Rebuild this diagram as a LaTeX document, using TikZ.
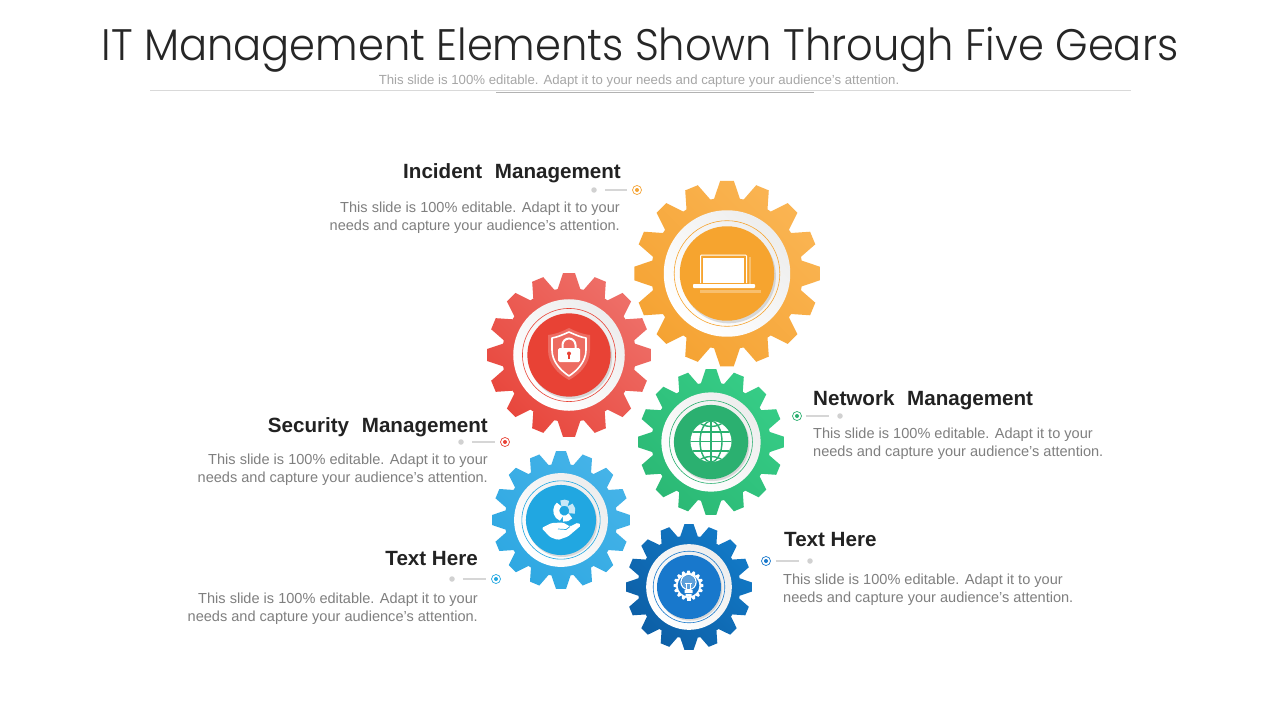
\documentclass[tikz,border=0pt]{standalone}
\usepackage{fontspec}
\setmainfont{Liberation Sans}
\newfontfamily\titlefont{Poppins Light}
\usetikzlibrary{calc}
\definecolor{ttl}{HTML}{262626}
\definecolor{bodyc}{HTML}{7F7F7F}
\definecolor{subc}{HTML}{A6A6A6}
\definecolor{headc}{HTML}{222222}
\definecolor{oA}{HTML}{FAB452}\definecolor{oB}{HTML}{F5A333}\definecolor{oD}{HTML}{F6A42F}
\definecolor{rA}{HTML}{EE6F68}\definecolor{rB}{HTML}{E8473D}\definecolor{rD}{HTML}{E84235}
\definecolor{gA}{HTML}{36CC86}\definecolor{gB}{HTML}{2BB975}\definecolor{gD}{HTML}{2BB070}
\definecolor{bA}{HTML}{45B3E8}\definecolor{bB}{HTML}{2FA8E2}\definecolor{bD}{HTML}{21A7E1}
\definecolor{dA}{HTML}{1279C6}\definecolor{dB}{HTML}{0D5FA6}\definecolor{dD}{HTML}{1878CC}
\tikzset{
  x=1pt,y=-1pt,
  headtxt/.style={inner sep=0pt,font=\fontsize{20.6}{24}\selectfont\bfseries,text=headc},
  bodyleft/.style={inner sep=0pt,align=left,font=\fontsize{14.55}{18}\selectfont,text=bodyc},
  bodyright/.style={inner sep=0pt,align=right,font=\fontsize{14.55}{18}\selectfont,text=bodyc},
  ringdot/.style={circle,inner sep=0pt,minimum size=9pt,draw=#1,line width=.7pt,fill=white},
  enddot/.style={circle,inner sep=0pt,minimum size=5.5pt,fill=black!18},
  leader/.style={draw=black!16,line width=1.2pt},
}
% gear outline with 16 teeth: cx cy R light dark
\newcommand{\gearshape}[5]{%
  \def\cx{#1}\def\cy{#2}%
  \pgfmathsetmacro{\Rout}{#3}\pgfmathsetmacro{\Rin}{#3*.815}%
  \shade[top color=#4,bottom color=#5,shading angle=-45]
    ({\cx+\Rin*cos(-11.25)},{\cy+\Rin*sin(-11.25)})
    \foreach \a in {0,22.5,...,337.5}{
      -- ({\cx+\Rin*cos(\a-9.8)},{\cy+\Rin*sin(\a-9.8)})
      -- ({\cx+\Rout*cos(\a-4.2)},{\cy+\Rout*sin(\a-4.2)})
      -- ({\cx+\Rout*cos(\a+4.2)},{\cy+\Rout*sin(\a+4.2)})
      -- ({\cx+\Rin*cos(\a+9.8)},{\cy+\Rin*sin(\a+9.8)})
      -- ({\cx+\Rin*cos(\a+11.25)},{\cy+\Rin*sin(\a+11.25)})
    } -- cycle;
}
\newcommand{\gearcore}[4]{% cx cy R disk
  \shade[top color=black!7,bottom color=white,shading angle=-45] (#1,#2) circle ({#3*.68});
  \draw[#4,line width=.6pt] (#1,#2) circle ({#3*.568});
  \fill[black!28,opacity=.5] ({#1+#3*.018},{#2+#3*.028}) circle ({#3*.508});
  \fill[#4] (#1,#2) circle ({#3*.508});
}
\begin{document}
\begin{tikzpicture}
\useasboundingbox (0,0) rectangle (1280,720);
\fill[white] (0,0) rectangle (1280,720);
% title
\node[inner sep=0pt,text=ttl,anchor=base] (title) at (640,60.5) {\scalebox{1}[1.06]{\titlefont\fontsize{41.6}{50}\selectfont IT Management Elements Shown Through Five Gears}};
\node[inner sep=0pt,text=subc,font=\fontsize{13.2}{15}\selectfont] (subtitle) at (639,81.5) {This slide is 100\% editable. Adapt it to your needs and capture your audience's attention.};
\draw[black!15,line width=.7pt] (150,90.5) -- (1131,90.5);
\draw[black!30,line width=.7pt] (496,92.5) -- (814,92.5);

% gears
\gearshape{727}{273.5}{93}{oA}{oB}\gearcore{727}{273.5}{93}{oD}
\gearshape{569}{355}{82}{rA}{rB}\gearcore{569}{355}{82}{rD}
\gearshape{711}{442}{73}{gA}{gB}\gearcore{711}{442}{73}{gD}
\gearshape{561}{520}{69}{bA}{bB}\gearcore{561}{520}{69}{bD}
\gearshape{689}{587}{63}{dA}{dB}\gearcore{689}{587}{63}{dD}

% laptop icon
\fill[white,opacity=.3] (708,257) rectangle (751,285);
\fill[oD] (706,256) rectangle (749,284);
\fill[white,opacity=.3] (700,290) rectangle (761,292.5);
\draw[white,line width=1pt,rounded corners=1pt] (700.5,283) -- (700.5,255) -- (746.5,255) -- (746.5,283);
\fill[white] (703,257.5) rectangle (744,283);
\fill[white,rounded corners=.8pt] (693,284) rectangle (755,288);

% shield icon
\fill[white,opacity=.22] (569,328) .. controls (561,332) and (556,334) .. (548,335) -- (548,350) .. controls (548,364) and (558,374) .. (569,380) .. controls (580,374) and (590,364) .. (590,350) -- (590,335) .. controls (582,334) and (577,332) .. (569,328) -- cycle;
\draw[white,line width=1.6pt,line join=round] (569,332) .. controls (562,335) and (558,337) .. (552,338) -- (552,350) .. controls (552,361) and (560,370) .. (569,376) .. controls (578,370) and (586,361) .. (586,350) -- (586,338) .. controls (580,337) and (576,335) .. (569,332) -- cycle;
\draw[white,line width=2pt] (562.5,349) -- (562.5,345) arc[start angle=180,end angle=360,radius=6.5] -- (575.5,349);
\fill[white,rounded corners=1.5pt] (558,348) rectangle (580,362);
\fill[rD] (569,353.5) circle (2);
\fill[rD] (568,353.5) rectangle (570,358.5);

% globe icon
\fill[white] (711,441.5) circle (20.5);
\begin{scope}
\clip (711,441.5) circle (20.5);
\draw[gD,line width=1.4pt] (688,441.5) -- (734,441.5);
\draw[gD,line width=1.4pt] (688,432) -- (734,432) (688,451) -- (734,451);
\draw[gD,line width=1.4pt] (711,418) -- (711,465);
\draw[gD,line width=1.4pt] (711,441.5) ellipse (11 and 20.5);
\draw[gD,line width=1.4pt] (711,405.5) circle (21) (711,477.5) circle (21);
\fill[gD,opacity=.45] (733,452) -- (733,465) -- (714,465) .. controls (722,460) and (728,454) .. (733,442) -- cycle;
\end{scope}

% hand + donut icon
\draw[white,line width=6pt] ($(564.3,510.7)+(-130:8)$) arc[start angle=-130,end angle=-250,radius=8];
\draw[white,line width=6pt] ($(564.3,510.7)+(-260:8)$) arc[start angle=-260,end angle=-320,radius=8];
\draw[white,opacity=.75,line width=6pt] ($(564.3,510.7)+(-60:8)$) arc[start angle=-60,end angle=-115,radius=8];
\draw[white,opacity=.75,line width=6pt] ($(564.3,510.7)+(20:8)$) arc[start angle=20,end angle=-45,radius=8];
\fill[white,rounded corners=1.5pt] (541.5,528) -- (551.5,523) -- (563,522.5) -- (570,526.5) -- (578,522.5) -- (581,525.5) -- (568,536.5) -- (558,540) -- (550,537) -- cycle;
\draw[bD,line width=.7pt] (558,529) -- (566,529.5) -- (570,526.5);

% bulb + small gear icon
\gearshape{688.5}{585.5}{15}{white}{white}
\fill[dD] (688.5,585.5) circle (10.8);
\draw[white,line width=1.2pt] (688.5,582) circle (7.6);
\fill[white,opacity=.3] (688.5,582) circle (6.5);
\draw[white,line width=.8pt] (686.5,590) -- (686.5,583) (690.5,590) -- (690.5,583);
\draw[white,line width=.7pt] (685,583) -- (692,583);
\fill[white] (684.5,590) rectangle (692.5,593) (685.5,594) rectangle (691.5,596.5);
\fill[white] (686.5,597) rectangle (690.5,600.5);

% callouts
\node[ringdot=oB] (r1) at (637,190) {};\fill[oB] (r1) circle (2);
\node[enddot] (d1) at (594,190) {};
\path[leader] (d1) edge[shorten <=8pt,shorten >=5pt] (r1);
\node[ringdot=rD] (r2) at (505,442) {};\fill[rD] (r2) circle (2);
\node[enddot] (d2) at (461,442) {};
\path[leader] (d2) edge[shorten <=8pt,shorten >=5pt] (r2);
\node[ringdot=bD] (r3) at (496,579) {};\fill[bD] (r3) circle (2);
\node[enddot] (d3) at (452,579) {};
\path[leader] (d3) edge[shorten <=8pt,shorten >=5pt] (r3);
\node[ringdot=gD] (r4) at (797,416) {};\fill[gD] (r4) circle (2);
\node[enddot] (d4) at (840,416) {};
\path[leader] (r4) edge[shorten <=4pt,shorten >=8pt] (d4);
\node[ringdot=dD] (r5) at (766,561) {};\fill[dD] (r5) circle (2);
\node[enddot] (d5) at (810,561) {};
\path[leader] (r5) edge[shorten <=5pt,shorten >=8pt] (d5);

% texts
\node[headtxt,anchor=base east] (h1) at (621,178) {Incident\hspace{7pt} Management};
\node[bodyright,anchor=north east] (t1) at (620,201.5) {This slide is 100\% editable. Adapt it to your\\needs and capture your audience's attention.};
\node[headtxt,anchor=base east] (h2) at (488,432) {Security\hspace{7pt} Management};
\node[bodyright,anchor=north east] (t2) at (488,453.5) {This slide is 100\% editable. Adapt it to your\\needs and capture your audience's attention.};
\node[headtxt,anchor=base east] (h3) at (478,565) {Text Here};
\node[bodyright,anchor=north east] (t3) at (478,592.5) {This slide is 100\% editable. Adapt it to your\\needs and capture your audience's attention.};
\node[headtxt,anchor=base west] (h4) at (813,405) {Network\hspace{7pt} Management};
\node[bodyleft,anchor=north west] (t4) at (813,427.5) {This slide is 100\% editable. Adapt it to your\\needs and capture your audience's attention.};
\node[headtxt,anchor=base west] (h5) at (784,546) {Text Here};
\node[bodyleft,anchor=north west] (t5) at (783,573.5) {This slide is 100\% editable. Adapt it to your\\needs and capture your audience's attention.};
\end{tikzpicture}
\end{document}
